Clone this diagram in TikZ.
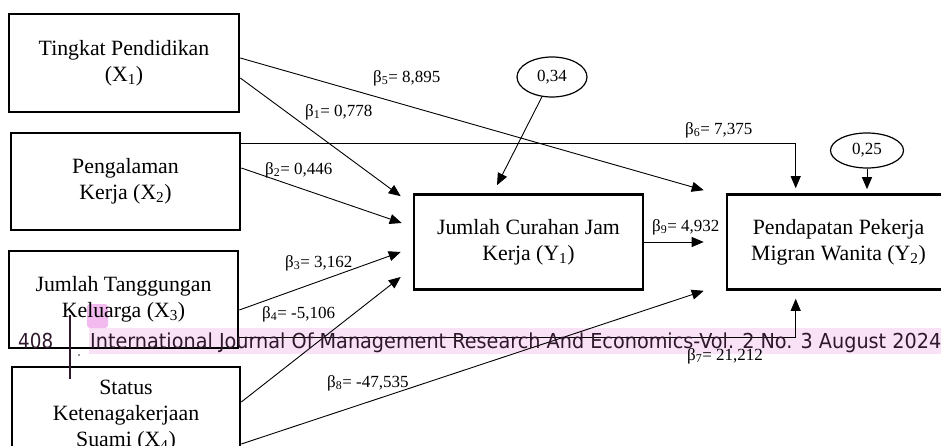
\documentclass[tikz,border=0pt]{standalone}
\usepackage{fontspec}
\usepackage{graphicx}
\setmainfont{Liberation Serif}
\newfontfamily\footfont{DejaVu Sans}
\usetikzlibrary{arrows.meta,shapes.geometric}
\definecolor{pinkhl}{RGB}{249,226,246}
\definecolor{pinksq}{RGB}{242,186,238}
\definecolor{footc}{RGB}{48,24,44}
\begin{document}
\begin{tikzpicture}[x=1pt,y=-1pt,
  box/.style={draw, line width=2.6pt, align=center, inner sep=0pt,
    font=\fontsize{21.8}{26}\selectfont},
  lab/.style={font=\fontsize{17}{20}\selectfont, inner sep=0pt, anchor=west},
  err/.style={draw, ellipse, line width=1.2pt, inner sep=0pt,
    font=\fontsize{17}{20}\selectfont},
  arr/.style={line width=0.9pt, -{Triangle[length=12pt,width=10pt]}},
  foot/.style={anchor=base west, inner sep=0pt, text=footc,
    font=\footfont\fontsize{20.6}{24}\selectfont}]
\useasboundingbox (0,0) rectangle (941,446);
\clip (0,0) rectangle (941,446);
% page highlight (background)
\fill[pinkhl] (89,328) rectangle (941,354);
\fill[pinksq, rounded corners=3pt] (87,304) rectangle (108,328);
% boxes
\node[box, minimum width=230pt, minimum height=98pt] (X1) at (124,63) {Tingkat Pendidikan\\(X\textsubscript{1})};
\node[box, minimum width=229pt, minimum height=97pt] (X2) at (125.5,181.5) {Pengalaman\\Kerja (X\textsubscript{2})};
\node[box, minimum width=229pt, minimum height=97pt] (X3) at (123.5,299.5) {Jumlah Tanggungan\\Keluarga (X\textsubscript{3})};
\node[box, minimum width=228pt, minimum height=98pt] (X4) at (126,416) {Status\\Ketenagakerjaan\\Suami (X\textsubscript{4})};
\node[box, minimum width=229pt, minimum height=95pt] (Y1) at (528.5,242) {Jumlah Curahan Jam\\Kerja (Y\textsubscript{1})};
\node[box, minimum width=223pt, minimum height=95pt] (Y2) at (838.5,242) {Pendapatan Pekerja\\Migran Wanita (Y\textsubscript{2})};
% error terms
\node[err, minimum width=70pt, minimum height=40pt] (e1) at (552,77) {0,34};
\node[err, minimum width=73pt, minimum height=35pt] (e2) at (867,150.5) {0,25};
% connectors
\draw[arr] (X1.east |- 0,58) -- ([xshift=-22pt,yshift=3pt]Y2.north west);
\draw[arr] (X1.east |- 0,78) -- ([xshift=-12pt,yshift=-3pt]Y1.north west);
\draw[arr] (X2.east |- 0,143) -| ([xshift=70pt,yshift=5pt]Y2.north west);
\draw[arr] (X2.east |- 0,168) -- ([xshift=-11pt,yshift=19pt]Y1.west);
\draw[arr] (e1) -- ([xshift=-31.5pt,yshift=8pt]Y1.north);
\draw[arr, shorten >=4pt] (e2) -- (e2 |- Y2.north);
\draw[arr] (Y1.east) -- ([xshift=-22pt]Y2.west);
\draw[arr] (X3.east |- 0,310) -- ([xshift=-12pt,yshift=-10pt]Y1.west);
\draw[arr] (X3.east |- 0,337) -| ([xshift=70pt,yshift=-8pt]Y2.south west);
\draw[arr] (X4.east |- 0,402) -- ([xshift=-12pt,yshift=-35pt]Y1.west);
\draw[arr] (X4.east |- 0,444) -- ([xshift=-22pt]Y2.south west);
% labels
\node[lab] (b5) at (373,78) {β\textsubscript{5}= 8,895};
\node[lab] (b1) at (305,112) {β\textsubscript{1}= 0,778};
\node[lab] (b2) at (265,170) {β\textsubscript{2}= 0,446};
\node[lab] (b6) at (685,130) {β\textsubscript{6}= 7,375};
\node[lab] (b9) at (652,227) {β\textsubscript{9}= 4,932};
\node[lab] (b3) at (285,263) {β\textsubscript{3}= 3,162};
\node[lab] (b4) at (262,314) {β\textsubscript{4}= -5,106};
\node[lab] (b8) at (327,383) {β\textsubscript{8}= -47,535};
\node[lab] (b7) at (687,356) {β\textsubscript{7}= 21,212};
% page footer overlay
\draw[footc, line width=1.8pt] (70,315) -- (70,379);
\fill[footc] (79,355) circle (0.9pt);
\node[foot] (pg) at (18,348) {\resizebox{35pt}{\height}{408}};
\node[foot] (ft) at (90,348) {\resizebox{851pt}{\height}{International Journal Of Management Research And Economics-Vol. 2 No. 3 August 2024}};
\end{tikzpicture}
\end{document}
